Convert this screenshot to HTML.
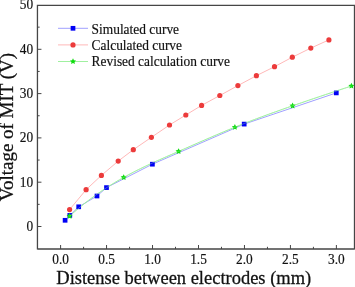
<!DOCTYPE html>
<html><head><meta charset="utf-8"><style>
html,body{margin:0;padding:0;background:#fff;}
body{width:355px;height:287px;overflow:hidden;}
svg{display:block;}
svg{will-change:transform;}
text{font-family:"Liberation Serif",serif;fill:#111;stroke:#111;stroke-width:0.18px;}
.tk{font-size:14.2px;}
.lg{font-size:14.5px;}
.ti{font-size:18.4px;stroke-width:0.28px;}
</style></head><body>
<svg width="355" height="287" viewBox="0 0 355 287">
<path d="M37.45,5.4 H354.5 M37.45,249.0 H354.5 M37.45,4.800000000000001 V249.6 M354.5,4.800000000000001 V249.6" fill="none" stroke="#464646" stroke-width="1.3"/>
<line x1="60.60" y1="249.0" x2="60.60" y2="245.00" stroke="#464646" stroke-width="1"/>
<text transform="translate(60.60,264.3) scale(0.94,1)" class="tk" text-anchor="middle">0.0</text>
<line x1="83.58" y1="249.0" x2="83.58" y2="246.80" stroke="#464646" stroke-width="1"/>
<line x1="106.56" y1="249.0" x2="106.56" y2="245.00" stroke="#464646" stroke-width="1"/>
<text transform="translate(106.56,264.3) scale(0.94,1)" class="tk" text-anchor="middle">0.5</text>
<line x1="129.55" y1="249.0" x2="129.55" y2="246.80" stroke="#464646" stroke-width="1"/>
<line x1="152.53" y1="249.0" x2="152.53" y2="245.00" stroke="#464646" stroke-width="1"/>
<text transform="translate(152.53,264.3) scale(0.94,1)" class="tk" text-anchor="middle">1.0</text>
<line x1="175.51" y1="249.0" x2="175.51" y2="246.80" stroke="#464646" stroke-width="1"/>
<line x1="198.50" y1="249.0" x2="198.50" y2="245.00" stroke="#464646" stroke-width="1"/>
<text transform="translate(198.50,264.3) scale(0.94,1)" class="tk" text-anchor="middle">1.5</text>
<line x1="221.48" y1="249.0" x2="221.48" y2="246.80" stroke="#464646" stroke-width="1"/>
<line x1="244.46" y1="249.0" x2="244.46" y2="245.00" stroke="#464646" stroke-width="1"/>
<text transform="translate(244.46,264.3) scale(0.94,1)" class="tk" text-anchor="middle">2.0</text>
<line x1="267.44" y1="249.0" x2="267.44" y2="246.80" stroke="#464646" stroke-width="1"/>
<line x1="290.43" y1="249.0" x2="290.43" y2="245.00" stroke="#464646" stroke-width="1"/>
<text transform="translate(290.43,264.3) scale(0.94,1)" class="tk" text-anchor="middle">2.5</text>
<line x1="313.41" y1="249.0" x2="313.41" y2="246.80" stroke="#464646" stroke-width="1"/>
<line x1="336.39" y1="249.0" x2="336.39" y2="245.00" stroke="#464646" stroke-width="1"/>
<text transform="translate(336.39,264.3) scale(0.94,1)" class="tk" text-anchor="middle">3.0</text>
<line x1="37.45" y1="226.50" x2="41.45" y2="226.50" stroke="#464646" stroke-width="1"/>
<text transform="translate(33.2,230.80) scale(0.94,1)" class="tk" text-anchor="end">0</text>
<line x1="37.45" y1="204.35" x2="39.65" y2="204.35" stroke="#464646" stroke-width="1"/>
<line x1="37.45" y1="182.20" x2="41.45" y2="182.20" stroke="#464646" stroke-width="1"/>
<text transform="translate(33.2,186.50) scale(0.94,1)" class="tk" text-anchor="end">10</text>
<line x1="37.45" y1="160.05" x2="39.65" y2="160.05" stroke="#464646" stroke-width="1"/>
<line x1="37.45" y1="137.90" x2="41.45" y2="137.90" stroke="#464646" stroke-width="1"/>
<text transform="translate(33.2,142.20) scale(0.94,1)" class="tk" text-anchor="end">20</text>
<line x1="37.45" y1="115.75" x2="39.65" y2="115.75" stroke="#464646" stroke-width="1"/>
<line x1="37.45" y1="93.60" x2="41.45" y2="93.60" stroke="#464646" stroke-width="1"/>
<text transform="translate(33.2,97.90) scale(0.94,1)" class="tk" text-anchor="end">30</text>
<line x1="37.45" y1="71.45" x2="39.65" y2="71.45" stroke="#464646" stroke-width="1"/>
<line x1="37.45" y1="49.30" x2="41.45" y2="49.30" stroke="#464646" stroke-width="1"/>
<text transform="translate(33.2,53.60) scale(0.94,1)" class="tk" text-anchor="end">40</text>
<line x1="37.45" y1="27.15" x2="39.65" y2="27.15" stroke="#464646" stroke-width="1"/>
<text transform="translate(33.2,9.30) scale(0.94,1)" class="tk" text-anchor="end">50</text>
<polyline points="65.10,220.30 69.80,215.40 78.70,206.80 97.00,196.00 106.50,187.60 152.40,164.20 244.20,124.10 336.30,92.90" fill="none" stroke="#a0a0ff" stroke-width="1"/>
<polyline points="69.60,209.60 86.10,189.70 101.40,175.40 118.20,161.10 133.30,149.70 151.40,137.30 169.50,125.00 185.80,115.00 201.60,105.40 219.80,95.50 237.90,85.60 256.40,75.70 274.50,66.70 292.30,57.20 310.80,48.10 328.90,39.90" fill="none" stroke="#ffb8b8" stroke-width="1"/>
<polyline points="69.60,216.10 71.97,213.99 74.34,211.92 76.70,209.90 79.07,207.92 81.44,205.98 83.81,204.08 86.18,202.22 88.54,200.39 90.91,198.61 93.28,196.86 95.65,195.15 98.02,193.47 100.38,191.83 102.75,190.23 105.12,188.66 107.49,187.12 109.86,185.61 112.23,184.13 114.59,182.69 116.96,181.27 119.33,179.89 121.70,178.53 124.07,177.20 126.43,175.89 128.80,174.61 131.17,173.36 133.54,172.13 135.91,170.92 138.27,169.73 140.64,168.56 143.01,167.41 145.38,166.27 147.75,165.15 150.11,164.05 152.48,162.95 154.85,161.87 157.22,160.80 159.59,159.74 161.95,158.69 164.32,157.64 166.69,156.60 169.06,155.56 171.43,154.53 173.79,153.50 176.16,152.46 178.53,151.43 180.90,150.39 183.27,149.36 185.64,148.32 188.00,147.28 190.37,146.24 192.74,145.20 195.11,144.16 197.48,143.12 199.84,142.09 202.21,141.05 204.58,140.02 206.95,138.99 209.32,137.96 211.68,136.94 214.05,135.92 216.42,134.91 218.79,133.90 221.16,132.89 223.52,131.90 225.89,130.91 228.26,129.92 230.63,128.94 233.00,127.97 235.36,127.01 237.73,126.06 240.10,125.11 242.47,124.18 244.84,123.25 247.21,122.33 249.57,121.41 251.94,120.51 254.31,119.60 256.68,118.71 259.05,117.82 261.41,116.94 263.78,116.07 266.15,115.20 268.52,114.33 270.89,113.47 273.25,112.62 275.62,111.77 277.99,110.93 280.36,110.09 282.73,109.25 285.09,108.42 287.46,107.59 289.83,106.76 292.20,105.94 294.57,105.12 296.93,104.30 299.30,103.49 301.67,102.68 304.04,101.87 306.41,101.06 308.77,100.25 311.14,99.45 313.51,98.65 315.88,97.85 318.25,97.05 320.62,96.26 322.98,95.46 325.35,94.67 327.72,93.88 330.09,93.09 332.46,92.30 334.82,91.51 337.19,90.72 339.56,89.93 341.93,89.14 344.30,88.36 346.66,87.57 349.03,86.79 351.40,86.00" fill="none" stroke="#a0f0a0" stroke-width="1"/>
<rect x="62.75" y="217.95" width="4.7" height="4.7" fill="#0000f5"/>
<rect x="67.45" y="213.05" width="4.7" height="4.7" fill="#0000f5"/>
<rect x="76.35" y="204.45" width="4.7" height="4.7" fill="#0000f5"/>
<rect x="94.65" y="193.65" width="4.7" height="4.7" fill="#0000f5"/>
<rect x="104.15" y="185.25" width="4.7" height="4.7" fill="#0000f5"/>
<rect x="150.05" y="161.85" width="4.7" height="4.7" fill="#0000f5"/>
<rect x="241.85" y="121.75" width="4.7" height="4.7" fill="#0000f5"/>
<rect x="333.95" y="90.55" width="4.7" height="4.7" fill="#0000f5"/>
<circle cx="69.60" cy="209.60" r="2.6" fill="#ec3b3b"/>
<circle cx="86.10" cy="189.70" r="2.6" fill="#ec3b3b"/>
<circle cx="101.40" cy="175.40" r="2.6" fill="#ec3b3b"/>
<circle cx="118.20" cy="161.10" r="2.6" fill="#ec3b3b"/>
<circle cx="133.30" cy="149.70" r="2.6" fill="#ec3b3b"/>
<circle cx="151.40" cy="137.30" r="2.6" fill="#ec3b3b"/>
<circle cx="169.50" cy="125.00" r="2.6" fill="#ec3b3b"/>
<circle cx="185.80" cy="115.00" r="2.6" fill="#ec3b3b"/>
<circle cx="201.60" cy="105.40" r="2.6" fill="#ec3b3b"/>
<circle cx="219.80" cy="95.50" r="2.6" fill="#ec3b3b"/>
<circle cx="237.90" cy="85.60" r="2.6" fill="#ec3b3b"/>
<circle cx="256.40" cy="75.70" r="2.6" fill="#ec3b3b"/>
<circle cx="274.50" cy="66.70" r="2.6" fill="#ec3b3b"/>
<circle cx="292.30" cy="57.20" r="2.6" fill="#ec3b3b"/>
<circle cx="310.80" cy="48.10" r="2.6" fill="#ec3b3b"/>
<circle cx="328.90" cy="39.90" r="2.6" fill="#ec3b3b"/>
<polygon points="69.60,212.90 70.54,214.81 72.64,215.11 71.12,216.59 71.48,218.69 69.60,217.70 67.72,218.69 68.08,216.59 66.56,215.11 68.66,214.81" fill="#10dc10"/>
<polygon points="123.70,174.20 124.64,176.11 126.74,176.41 125.22,177.89 125.58,179.99 123.70,179.00 121.82,179.99 122.18,177.89 120.66,176.41 122.76,176.11" fill="#10dc10"/>
<polygon points="178.60,148.20 179.54,150.11 181.64,150.41 180.12,151.89 180.48,153.99 178.60,153.00 176.72,153.99 177.08,151.89 175.56,150.41 177.66,150.11" fill="#10dc10"/>
<polygon points="234.90,124.00 235.84,125.91 237.94,126.21 236.42,127.69 236.78,129.79 234.90,128.80 233.02,129.79 233.38,127.69 231.86,126.21 233.96,125.91" fill="#10dc10"/>
<polygon points="292.60,102.60 293.54,104.51 295.64,104.81 294.12,106.29 294.48,108.39 292.60,107.40 290.72,108.39 291.08,106.29 289.56,104.81 291.66,104.51" fill="#10dc10"/>
<polygon points="351.40,82.80 352.34,84.71 354.44,85.01 352.92,86.49 353.28,88.59 351.40,87.60 349.52,88.59 349.88,86.49 348.36,85.01 350.46,84.71" fill="#10dc10"/>
<polyline points="69.60,216.10 71.97,213.99 74.34,211.92 76.70,209.90 79.07,207.92 81.44,205.98 83.81,204.08 86.18,202.22 88.54,200.39 90.91,198.61 93.28,196.86 95.65,195.15 98.02,193.47 100.38,191.83 102.75,190.23 105.12,188.66 107.49,187.12 109.86,185.61 112.23,184.13 114.59,182.69 116.96,181.27 119.33,179.89 121.70,178.53 124.07,177.20 126.43,175.89 128.80,174.61 131.17,173.36 133.54,172.13 135.91,170.92 138.27,169.73 140.64,168.56 143.01,167.41 145.38,166.27 147.75,165.15 150.11,164.05 152.48,162.95 154.85,161.87 157.22,160.80 159.59,159.74 161.95,158.69 164.32,157.64 166.69,156.60 169.06,155.56 171.43,154.53 173.79,153.50 176.16,152.46 178.53,151.43 180.90,150.39 183.27,149.36 185.64,148.32 188.00,147.28 190.37,146.24 192.74,145.20 195.11,144.16 197.48,143.12 199.84,142.09 202.21,141.05 204.58,140.02 206.95,138.99 209.32,137.96 211.68,136.94 214.05,135.92 216.42,134.91 218.79,133.90 221.16,132.89 223.52,131.90 225.89,130.91 228.26,129.92 230.63,128.94 233.00,127.97 235.36,127.01 237.73,126.06 240.10,125.11 242.47,124.18 244.84,123.25 247.21,122.33 249.57,121.41 251.94,120.51 254.31,119.60 256.68,118.71 259.05,117.82 261.41,116.94 263.78,116.07 266.15,115.20 268.52,114.33 270.89,113.47 273.25,112.62 275.62,111.77 277.99,110.93 280.36,110.09 282.73,109.25 285.09,108.42 287.46,107.59 289.83,106.76 292.20,105.94 294.57,105.12 296.93,104.30 299.30,103.49 301.67,102.68 304.04,101.87 306.41,101.06 308.77,100.25 311.14,99.45 313.51,98.65 315.88,97.85 318.25,97.05 320.62,96.26 322.98,95.46 325.35,94.67 327.72,93.88 330.09,93.09 332.46,92.30 334.82,91.51 337.19,90.72 339.56,89.93 341.93,89.14 344.30,88.36 346.66,87.57 349.03,86.79 351.40,86.00" fill="none" stroke="#a0f0a0" stroke-width="0.8" opacity="0.5"/>
<line x1="58" y1="28.3" x2="88" y2="28.3" stroke="#a0a0ff" stroke-width="1.0"/>
<rect x="70.65" y="25.95" width="4.7" height="4.7" fill="#0000f5"/>
<text transform="translate(91.6,33.6) scale(0.925,1)" class="lg">Simulated curve</text>
<line x1="58" y1="44.9" x2="88" y2="44.9" stroke="#ffb8b8" stroke-width="1.0"/>
<circle cx="73.00" cy="44.90" r="2.6" fill="#ec3b3b"/>
<text transform="translate(91.6,50.1) scale(0.925,1)" class="lg">Calculated curve</text>
<line x1="58" y1="61.5" x2="88" y2="61.5" stroke="#a0f0a0" stroke-width="1.0"/>
<polygon points="73.00,58.30 73.94,60.21 76.04,60.51 74.52,61.99 74.88,64.09 73.00,63.10 71.12,64.09 71.48,61.99 69.96,60.51 72.06,60.21" fill="#10dc10"/>
<text transform="translate(91.6,66.4) scale(0.925,1)" class="lg">Revised calculation curve</text>
<text transform="translate(56.3,283.7) scale(0.963,1)" class="ti" style="font-size:19.2px">Distense between electrodes (mm)</text>
<text transform="translate(13.2,201.2) rotate(-90) scale(1,0.96)" class="ti" style="font-size:18.95px">Voltage of MIT (V)</text>
</svg>
</body></html>
